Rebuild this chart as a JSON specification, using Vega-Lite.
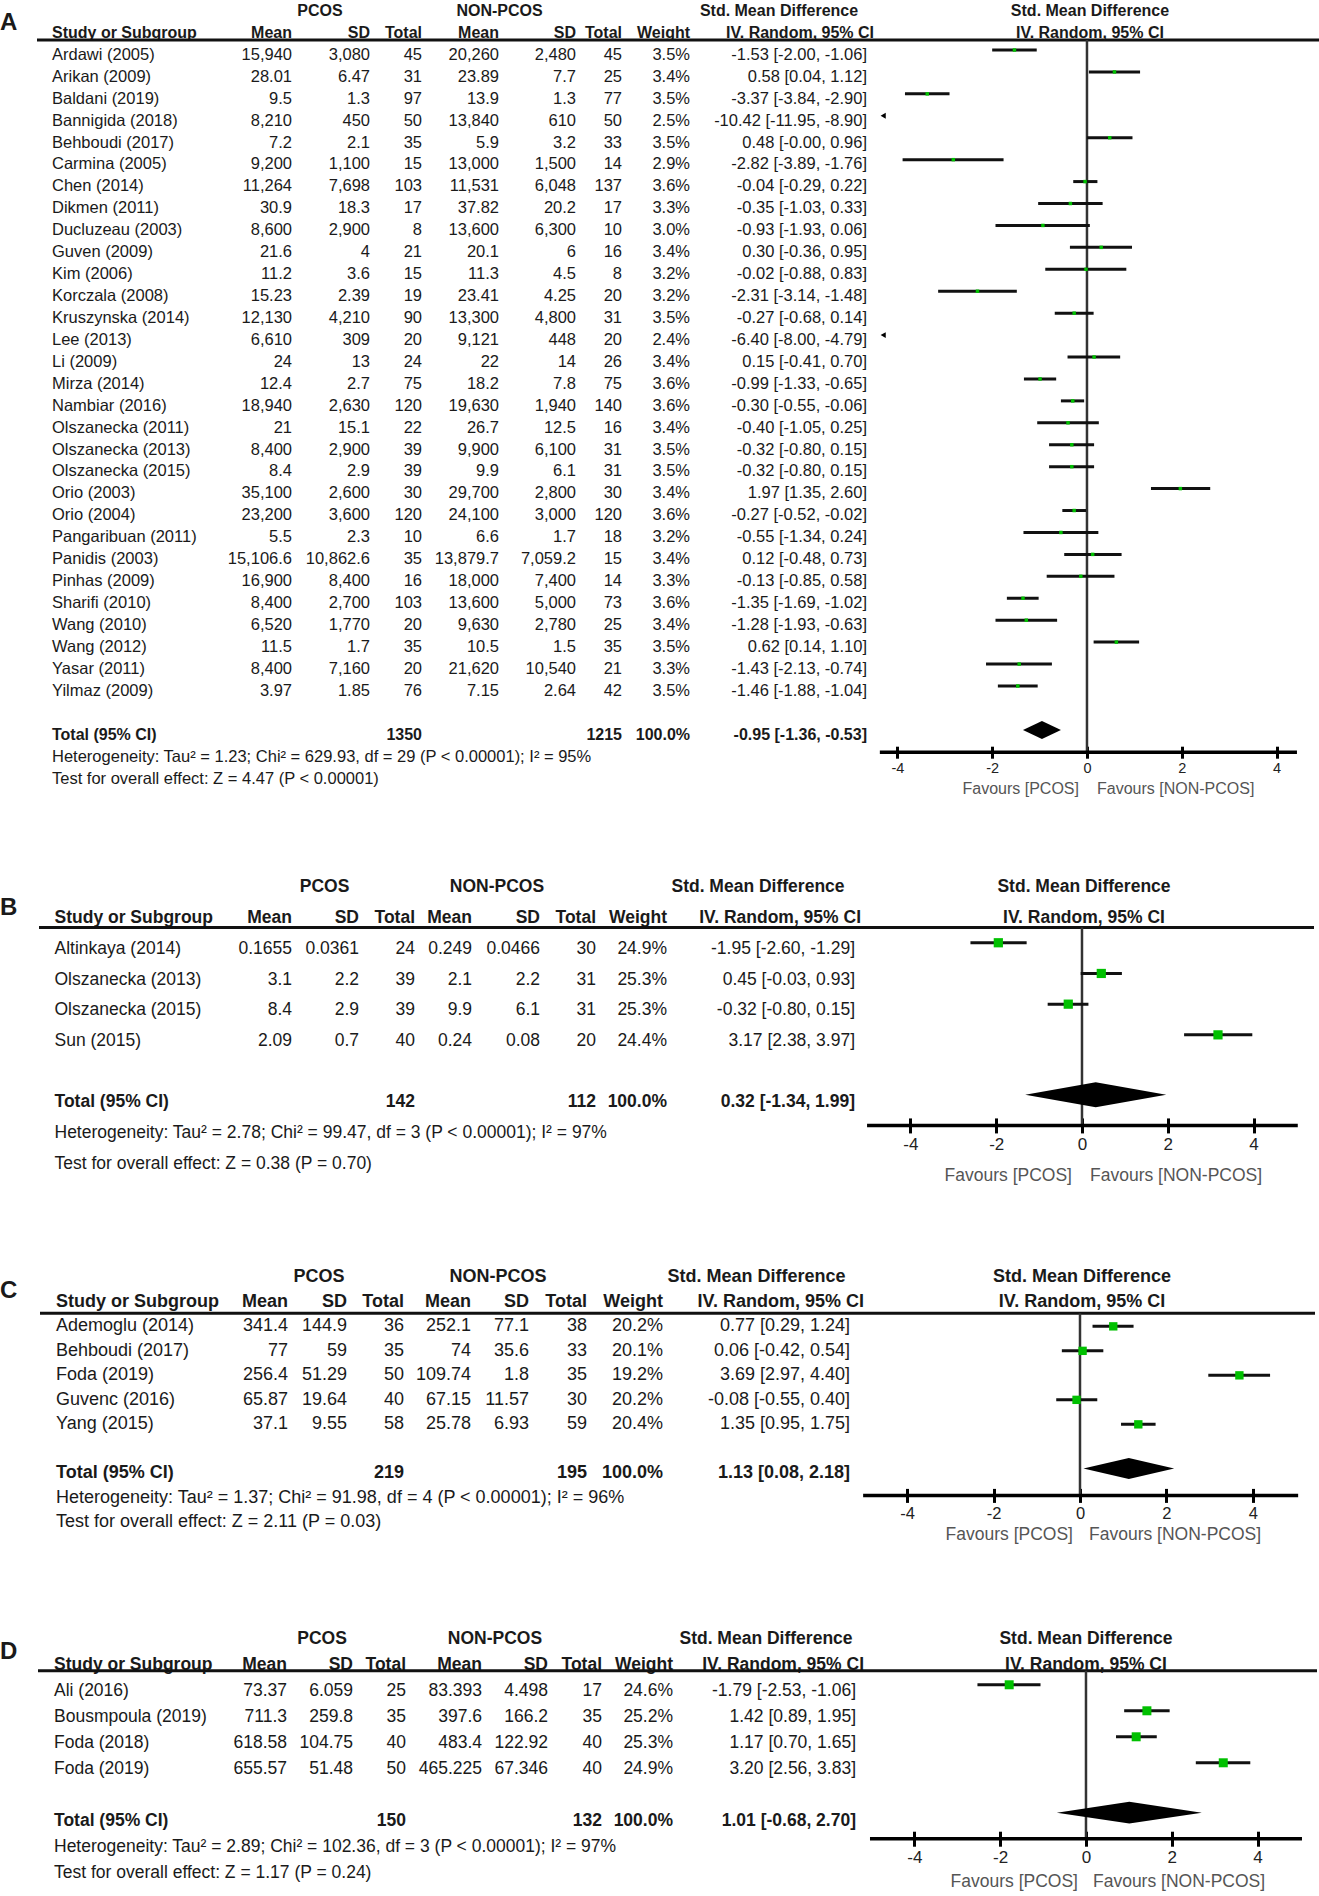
{
"$schema":"https://vega.github.io/schema/vega-lite/v6.json",
"background":"white","padding":0,
"datasets":{
"A":[
{"r":"h1","k":"h1","lab":"A","s1":"PCOS","s2":"NON-PCOS","ci":"Std. Mean Difference","p":"Std. Mean Difference"},
{"r":"Study or Subgroup","k":"h","m1":"Mean","s1":"SD","n1":"Total","m2":"Mean","s2":"SD","n2":"Total","w":"Weight","ci":"IV. Random, 95% CI","p":"IV. Random, 95% CI"},
{"r":"Ardawi (2005)","k":"s","m1":"15,940","s1":"3,080","n1":"45","m2":"20,260","s2":"2,480","n2":"45","w":"3.5%","ci":"-1.53 [-2.00, -1.06]","est":-1.53,"lo":-2.00,"hi":-1.06},
{"r":"Arikan (2009)","k":"s","m1":"28.01","s1":"6.47","n1":"31","m2":"23.89","s2":"7.7","n2":"25","w":"3.4%","ci":"0.58 [0.04, 1.12]","est":0.58,"lo":0.04,"hi":1.12},
{"r":"Baldani (2019)","k":"s","m1":"9.5","s1":"1.3","n1":"97","m2":"13.9","s2":"1.3","n2":"77","w":"3.5%","ci":"-3.37 [-3.84, -2.90]","est":-3.37,"lo":-3.84,"hi":-2.90},
{"r":"Bannigida (2018)","k":"s","m1":"8,210","s1":"450","n1":"50","m2":"13,840","s2":"610","n2":"50","w":"2.5%","ci":"-10.42 [-11.95, -8.90]","est":-10.42,"lo":-11.95,"hi":-8.90},
{"r":"Behboudi (2017)","k":"s","m1":"7.2","s1":"2.1","n1":"35","m2":"5.9","s2":"3.2","n2":"33","w":"3.5%","ci":"0.48 [-0.00, 0.96]","est":0.48,"lo":0.00,"hi":0.96},
{"r":"Carmina (2005)","k":"s","m1":"9,200","s1":"1,100","n1":"15","m2":"13,000","s2":"1,500","n2":"14","w":"2.9%","ci":"-2.82 [-3.89, -1.76]","est":-2.82,"lo":-3.89,"hi":-1.76},
{"r":"Chen (2014)","k":"s","m1":"11,264","s1":"7,698","n1":"103","m2":"11,531","s2":"6,048","n2":"137","w":"3.6%","ci":"-0.04 [-0.29, 0.22]","est":-0.04,"lo":-0.29,"hi":0.22},
{"r":"Dikmen (2011)","k":"s","m1":"30.9","s1":"18.3","n1":"17","m2":"37.82","s2":"20.2","n2":"17","w":"3.3%","ci":"-0.35 [-1.03, 0.33]","est":-0.35,"lo":-1.03,"hi":0.33},
{"r":"Ducluzeau (2003)","k":"s","m1":"8,600","s1":"2,900","n1":"8","m2":"13,600","s2":"6,300","n2":"10","w":"3.0%","ci":"-0.93 [-1.93, 0.06]","est":-0.93,"lo":-1.93,"hi":0.06},
{"r":"Guven (2009)","k":"s","m1":"21.6","s1":"4","n1":"21","m2":"20.1","s2":"6","n2":"16","w":"3.4%","ci":"0.30 [-0.36, 0.95]","est":0.30,"lo":-0.36,"hi":0.95},
{"r":"Kim (2006)","k":"s","m1":"11.2","s1":"3.6","n1":"15","m2":"11.3","s2":"4.5","n2":"8","w":"3.2%","ci":"-0.02 [-0.88, 0.83]","est":-0.02,"lo":-0.88,"hi":0.83},
{"r":"Korczala (2008)","k":"s","m1":"15.23","s1":"2.39","n1":"19","m2":"23.41","s2":"4.25","n2":"20","w":"3.2%","ci":"-2.31 [-3.14, -1.48]","est":-2.31,"lo":-3.14,"hi":-1.48},
{"r":"Kruszynska (2014)","k":"s","m1":"12,130","s1":"4,210","n1":"90","m2":"13,300","s2":"4,800","n2":"31","w":"3.5%","ci":"-0.27 [-0.68, 0.14]","est":-0.27,"lo":-0.68,"hi":0.14},
{"r":"Lee (2013)","k":"s","m1":"6,610","s1":"309","n1":"20","m2":"9,121","s2":"448","n2":"20","w":"2.4%","ci":"-6.40 [-8.00, -4.79]","est":-6.40,"lo":-8.00,"hi":-4.79},
{"r":"Li (2009)","k":"s","m1":"24","s1":"13","n1":"24","m2":"22","s2":"14","n2":"26","w":"3.4%","ci":"0.15 [-0.41, 0.70]","est":0.15,"lo":-0.41,"hi":0.70},
{"r":"Mirza (2014)","k":"s","m1":"12.4","s1":"2.7","n1":"75","m2":"18.2","s2":"7.8","n2":"75","w":"3.6%","ci":"-0.99 [-1.33, -0.65]","est":-0.99,"lo":-1.33,"hi":-0.65},
{"r":"Nambiar (2016)","k":"s","m1":"18,940","s1":"2,630","n1":"120","m2":"19,630","s2":"1,940","n2":"140","w":"3.6%","ci":"-0.30 [-0.55, -0.06]","est":-0.30,"lo":-0.55,"hi":-0.06},
{"r":"Olszanecka (2011)","k":"s","m1":"21","s1":"15.1","n1":"22","m2":"26.7","s2":"12.5","n2":"16","w":"3.4%","ci":"-0.40 [-1.05, 0.25]","est":-0.40,"lo":-1.05,"hi":0.25},
{"r":"Olszanecka (2013)","k":"s","m1":"8,400","s1":"2,900","n1":"39","m2":"9,900","s2":"6,100","n2":"31","w":"3.5%","ci":"-0.32 [-0.80, 0.15]","est":-0.32,"lo":-0.80,"hi":0.15},
{"r":"Olszanecka (2015)","k":"s","m1":"8.4","s1":"2.9","n1":"39","m2":"9.9","s2":"6.1","n2":"31","w":"3.5%","ci":"-0.32 [-0.80, 0.15]","est":-0.32,"lo":-0.80,"hi":0.15},
{"r":"Orio (2003)","k":"s","m1":"35,100","s1":"2,600","n1":"30","m2":"29,700","s2":"2,800","n2":"30","w":"3.4%","ci":"1.97 [1.35, 2.60]","est":1.97,"lo":1.35,"hi":2.60},
{"r":"Orio (2004)","k":"s","m1":"23,200","s1":"3,600","n1":"120","m2":"24,100","s2":"3,000","n2":"120","w":"3.6%","ci":"-0.27 [-0.52, -0.02]","est":-0.27,"lo":-0.52,"hi":-0.02},
{"r":"Pangaribuan (2011)","k":"s","m1":"5.5","s1":"2.3","n1":"10","m2":"6.6","s2":"1.7","n2":"18","w":"3.2%","ci":"-0.55 [-1.34, 0.24]","est":-0.55,"lo":-1.34,"hi":0.24},
{"r":"Panidis (2003)","k":"s","m1":"15,106.6","s1":"10,862.6","n1":"35","m2":"13,879.7","s2":"7,059.2","n2":"15","w":"3.4%","ci":"0.12 [-0.48, 0.73]","est":0.12,"lo":-0.48,"hi":0.73},
{"r":"Pinhas (2009)","k":"s","m1":"16,900","s1":"8,400","n1":"16","m2":"18,000","s2":"7,400","n2":"14","w":"3.3%","ci":"-0.13 [-0.85, 0.58]","est":-0.13,"lo":-0.85,"hi":0.58},
{"r":"Sharifi (2010)","k":"s","m1":"8,400","s1":"2,700","n1":"103","m2":"13,600","s2":"5,000","n2":"73","w":"3.6%","ci":"-1.35 [-1.69, -1.02]","est":-1.35,"lo":-1.69,"hi":-1.02},
{"r":"Wang (2010)","k":"s","m1":"6,520","s1":"1,770","n1":"20","m2":"9,630","s2":"2,780","n2":"25","w":"3.4%","ci":"-1.28 [-1.93, -0.63]","est":-1.28,"lo":-1.93,"hi":-0.63},
{"r":"Wang (2012)","k":"s","m1":"11.5","s1":"1.7","n1":"35","m2":"10.5","s2":"1.5","n2":"35","w":"3.5%","ci":"0.62 [0.14, 1.10]","est":0.62,"lo":0.14,"hi":1.10},
{"r":"Yasar (2011)","k":"s","m1":"8,400","s1":"7,160","n1":"20","m2":"21,620","s2":"10,540","n2":"21","w":"3.3%","ci":"-1.43 [-2.13, -0.74]","est":-1.43,"lo":-2.13,"hi":-0.74},
{"r":"Yilmaz (2009)","k":"s","m1":"3.97","s1":"1.85","n1":"76","m2":"7.15","s2":"2.64","n2":"42","w":"3.5%","ci":"-1.46 [-1.88, -1.04]","est":-1.46,"lo":-1.88,"hi":-1.04},
{"r":"g","k":"g"},
{"r":"Total (95% CI)","k":"t","n1":"1350","n2":"1215","w":"100.0%","ci":"-0.95 [-1.36, -0.53]","est":-0.95,"lo":-1.36,"hi":-0.53},
{"r":"Het","k":"n","txt":"Heterogeneity: Tau² = 1.23; Chi² = 629.93, df = 29 (P < 0.00001); I² = 95%"},
{"r":"Test","k":"n","txt":"Test for overall effect: Z = 4.47 (P < 0.00001)","fl":"Favours [PCOS]","fr":"Favours [NON-PCOS]"}
],
"B":[
{"r":"h1","k":"h1","lab":"B","s1":"PCOS","s2":"NON-PCOS","ci":"Std. Mean Difference","p":"Std. Mean Difference"},
{"r":"Study or Subgroup","k":"h","m1":"Mean","s1":"SD","n1":"Total","m2":"Mean","s2":"SD","n2":"Total","w":"Weight","ci":"IV. Random, 95% CI","p":"IV. Random, 95% CI"},
{"r":"Altinkaya (2014)","k":"s","m1":"0.1655","s1":"0.0361","n1":"24","m2":"0.249","s2":"0.0466","n2":"30","w":"24.9%","ci":"-1.95 [-2.60, -1.29]","est":-1.95,"lo":-2.60,"hi":-1.29},
{"r":"Olszanecka (2013)","k":"s","m1":"3.1","s1":"2.2","n1":"39","m2":"2.1","s2":"2.2","n2":"31","w":"25.3%","ci":"0.45 [-0.03, 0.93]","est":0.45,"lo":-0.03,"hi":0.93},
{"r":"Olszanecka (2015)","k":"s","m1":"8.4","s1":"2.9","n1":"39","m2":"9.9","s2":"6.1","n2":"31","w":"25.3%","ci":"-0.32 [-0.80, 0.15]","est":-0.32,"lo":-0.80,"hi":0.15},
{"r":"Sun (2015)","k":"s","m1":"2.09","s1":"0.7","n1":"40","m2":"0.24","s2":"0.08","n2":"20","w":"24.4%","ci":"3.17 [2.38, 3.97]","est":3.17,"lo":2.38,"hi":3.97},
{"r":"g","k":"g"},
{"r":"Total (95% CI)","k":"t","n1":"142","n2":"112","w":"100.0%","ci":"0.32 [-1.34, 1.99]","est":0.32,"lo":-1.34,"hi":1.99},
{"r":"Het","k":"n","txt":"Heterogeneity: Tau² = 2.78; Chi² = 99.47, df = 3 (P < 0.00001); I² = 97%"},
{"r":"Test","k":"n","txt":"Test for overall effect: Z = 0.38 (P = 0.70)","fl":"Favours [PCOS]","fr":"Favours [NON-PCOS]"}
],
"C":[
{"r":"h1","k":"h1","lab":"C","s1":"PCOS","s2":"NON-PCOS","ci":"Std. Mean Difference","p":"Std. Mean Difference"},
{"r":"Study or Subgroup","k":"h","m1":"Mean","s1":"SD","n1":"Total","m2":"Mean","s2":"SD","n2":"Total","w":"Weight","ci":"IV. Random, 95% CI","p":"IV. Random, 95% CI"},
{"r":"Ademoglu (2014)","k":"s","m1":"341.4","s1":"144.9","n1":"36","m2":"252.1","s2":"77.1","n2":"38","w":"20.2%","ci":"0.77 [0.29, 1.24]","est":0.77,"lo":0.29,"hi":1.24},
{"r":"Behboudi (2017)","k":"s","m1":"77","s1":"59","n1":"35","m2":"74","s2":"35.6","n2":"33","w":"20.1%","ci":"0.06 [-0.42, 0.54]","est":0.06,"lo":-0.42,"hi":0.54},
{"r":"Foda (2019)","k":"s","m1":"256.4","s1":"51.29","n1":"50","m2":"109.74","s2":"1.8","n2":"35","w":"19.2%","ci":"3.69 [2.97, 4.40]","est":3.69,"lo":2.97,"hi":4.40},
{"r":"Guvenc (2016)","k":"s","m1":"65.87","s1":"19.64","n1":"40","m2":"67.15","s2":"11.57","n2":"30","w":"20.2%","ci":"-0.08 [-0.55, 0.40]","est":-0.08,"lo":-0.55,"hi":0.40},
{"r":"Yang (2015)","k":"s","m1":"37.1","s1":"9.55","n1":"58","m2":"25.78","s2":"6.93","n2":"59","w":"20.4%","ci":"1.35 [0.95, 1.75]","est":1.35,"lo":0.95,"hi":1.75},
{"r":"g","k":"g"},
{"r":"Total (95% CI)","k":"t","n1":"219","n2":"195","w":"100.0%","ci":"1.13 [0.08, 2.18]","est":1.13,"lo":0.08,"hi":2.18},
{"r":"Het","k":"n","txt":"Heterogeneity: Tau² = 1.37; Chi² = 91.98, df = 4 (P < 0.00001); I² = 96%"},
{"r":"Test","k":"n","txt":"Test for overall effect: Z = 2.11 (P = 0.03)","fl":"Favours [PCOS]","fr":"Favours [NON-PCOS]"}
],
"D":[
{"r":"h1","k":"h1","lab":"D","s1":"PCOS","s2":"NON-PCOS","ci":"Std. Mean Difference","p":"Std. Mean Difference"},
{"r":"Study or Subgroup","k":"h","m1":"Mean","s1":"SD","n1":"Total","m2":"Mean","s2":"SD","n2":"Total","w":"Weight","ci":"IV. Random, 95% CI","p":"IV. Random, 95% CI"},
{"r":"Ali (2016)","k":"s","m1":"73.37","s1":"6.059","n1":"25","m2":"83.393","s2":"4.498","n2":"17","w":"24.6%","ci":"-1.79 [-2.53, -1.06]","est":-1.79,"lo":-2.53,"hi":-1.06},
{"r":"Bousmpoula (2019)","k":"s","m1":"711.3","s1":"259.8","n1":"35","m2":"397.6","s2":"166.2","n2":"35","w":"25.2%","ci":"1.42 [0.89, 1.95]","est":1.42,"lo":0.89,"hi":1.95},
{"r":"Foda (2018)","k":"s","m1":"618.58","s1":"104.75","n1":"40","m2":"483.4","s2":"122.92","n2":"40","w":"25.3%","ci":"1.17 [0.70, 1.65]","est":1.17,"lo":0.70,"hi":1.65},
{"r":"Foda (2019)","k":"s","m1":"655.57","s1":"51.48","n1":"50","m2":"465.225","s2":"67.346","n2":"40","w":"24.9%","ci":"3.20 [2.56, 3.83]","est":3.20,"lo":2.56,"hi":3.83},
{"r":"g","k":"g"},
{"r":"Total (95% CI)","k":"t","n1":"150","n2":"132","w":"100.0%","ci":"1.01 [-0.68, 2.70]","est":1.01,"lo":-0.68,"hi":2.70},
{"r":"Het","k":"n","txt":"Heterogeneity: Tau² = 2.89; Chi² = 102.36, df = 3 (P < 0.00001); I² = 97%"},
{"r":"Test","k":"n","txt":"Test for overall effect: Z = 1.17 (P = 0.24)","fl":"Favours [PCOS]","fr":"Favours [NON-PCOS]"}
]
},
"vconcat":[
{"hconcat":[
{"width":37,"height":{"step":21.93},"data":{"name":"A"},"mark":{"type":"text","style":"L","align":"left"},"encoding":{"x":{"value":0},"y":{"field":"r","type":"nominal","axis":null,"sort":null,"bandPosition":1.05,"scale":{"type":"band","paddingInner":0,"paddingOuter":0.3876,"align":0}},"text":{"condition":{"test":"datum.k=='h1'","field":"lab"},"value":""}}},
{"width":203,"height":{"step":21.93},"data":{"name":"A"},"encoding":{"y":{"field":"r","type":"nominal","axis":null,"sort":null,"scale":{"type":"band","paddingInner":0,"paddingOuter":0.3876,"align":0}}},"layer":[
{"mark":{"type":"text","style":"A","align":"left","dx":15},"encoding":{"x":{"value":0},"text":{"condition":{"test":"datum.k=='s'","field":"r"},"value":""}}},
{"mark":{"type":"text","style":"Ab","align":"left","dx":15},"encoding":{"x":{"value":0},"text":{"condition":{"test":"datum.k=='h'||datum.k=='t'","field":"r"},"value":""}}},
{"mark":{"type":"text","style":"A","align":"left","dx":15},"encoding":{"x":{"value":0},"text":{"condition":{"test":"datum.k=='n'","field":"txt"},"value":""}}},
{"mark":{"type":"rule","color":"#111","strokeWidth":3},"encoding":{"y":{"field":"r","type":"nominal","axis":null,"sort":null,"bandPosition":0.82},"opacity":{"condition":{"test":"datum.k=='h'","value":1},"value":0}}}]},
{"width":52,"height":{"step":21.93},"data":{"name":"A"},"encoding":{"y":{"field":"r","type":"nominal","axis":null,"sort":null,"scale":{"type":"band","paddingInner":0,"paddingOuter":0.3876,"align":0}}},"layer":[
{"mark":{"type":"text","style":"A"},"encoding":{"x":{"value":"width"},"text":{"condition":{"test":"datum.k=='s'","field":"m1"},"value":""}}},
{"mark":{"type":"text","style":"Ab"},"encoding":{"x":{"value":"width"},"text":{"condition":{"test":"datum.k=='h'","field":"m1"},"value":""}}},
{"mark":{"type":"rule","color":"#111","strokeWidth":3},"encoding":{"y":{"field":"r","type":"nominal","axis":null,"sort":null,"bandPosition":0.82},"opacity":{"condition":{"test":"datum.k=='h'","value":1},"value":0}}}]},
{"width":78,"height":{"step":21.93},"data":{"name":"A"},"encoding":{"y":{"field":"r","type":"nominal","axis":null,"sort":null,"scale":{"type":"band","paddingInner":0,"paddingOuter":0.3876,"align":0}}},"layer":[
{"mark":{"type":"text","style":"A"},"encoding":{"x":{"value":"width"},"text":{"condition":{"test":"datum.k=='s'","field":"s1"},"value":""}}},
{"mark":{"type":"text","style":"Ab"},"encoding":{"x":{"value":"width"},"text":{"condition":{"test":"datum.k=='h'","field":"s1"},"value":""}}},
{"mark":{"type":"text","style":"Ab","align":"center","dx":-11},"encoding":{"text":{"condition":{"test":"datum.k=='h1'","field":"s1"},"value":""}}},
{"mark":{"type":"rule","color":"#111","strokeWidth":3},"encoding":{"y":{"field":"r","type":"nominal","axis":null,"sort":null,"bandPosition":0.82},"opacity":{"condition":{"test":"datum.k=='h'","value":1},"value":0}}}]},
{"width":52,"height":{"step":21.93},"data":{"name":"A"},"encoding":{"y":{"field":"r","type":"nominal","axis":null,"sort":null,"scale":{"type":"band","paddingInner":0,"paddingOuter":0.3876,"align":0}}},"layer":[
{"mark":{"type":"text","style":"A"},"encoding":{"x":{"value":"width"},"text":{"condition":{"test":"datum.k=='s'","field":"n1"},"value":""}}},
{"mark":{"type":"text","style":"Ab"},"encoding":{"x":{"value":"width"},"text":{"condition":{"test":"datum.k=='h'||datum.k=='t'","field":"n1"},"value":""}}},
{"mark":{"type":"rule","color":"#111","strokeWidth":3},"encoding":{"y":{"field":"r","type":"nominal","axis":null,"sort":null,"bandPosition":0.82},"opacity":{"condition":{"test":"datum.k=='h'","value":1},"value":0}}}]},
{"width":77,"height":{"step":21.93},"data":{"name":"A"},"encoding":{"y":{"field":"r","type":"nominal","axis":null,"sort":null,"scale":{"type":"band","paddingInner":0,"paddingOuter":0.3876,"align":0}}},"layer":[
{"mark":{"type":"text","style":"A"},"encoding":{"x":{"value":"width"},"text":{"condition":{"test":"datum.k=='s'","field":"m2"},"value":""}}},
{"mark":{"type":"text","style":"Ab"},"encoding":{"x":{"value":"width"},"text":{"condition":{"test":"datum.k=='h'","field":"m2"},"value":""}}},
{"mark":{"type":"rule","color":"#111","strokeWidth":3},"encoding":{"y":{"field":"r","type":"nominal","axis":null,"sort":null,"bandPosition":0.82},"opacity":{"condition":{"test":"datum.k=='h'","value":1},"value":0}}}]},
{"width":77,"height":{"step":21.93},"data":{"name":"A"},"encoding":{"y":{"field":"r","type":"nominal","axis":null,"sort":null,"scale":{"type":"band","paddingInner":0,"paddingOuter":0.3876,"align":0}}},"layer":[
{"mark":{"type":"text","style":"A"},"encoding":{"x":{"value":"width"},"text":{"condition":{"test":"datum.k=='s'","field":"s2"},"value":""}}},
{"mark":{"type":"text","style":"Ab"},"encoding":{"x":{"value":"width"},"text":{"condition":{"test":"datum.k=='h'","field":"s2"},"value":""}}},
{"mark":{"type":"text","style":"Ab","align":"center","dx":-38},"encoding":{"text":{"condition":{"test":"datum.k=='h1'","field":"s2"},"value":""}}},
{"mark":{"type":"rule","color":"#111","strokeWidth":3},"encoding":{"y":{"field":"r","type":"nominal","axis":null,"sort":null,"bandPosition":0.82},"opacity":{"condition":{"test":"datum.k=='h'","value":1},"value":0}}}]},
{"width":46,"height":{"step":21.93},"data":{"name":"A"},"encoding":{"y":{"field":"r","type":"nominal","axis":null,"sort":null,"scale":{"type":"band","paddingInner":0,"paddingOuter":0.3876,"align":0}}},"layer":[
{"mark":{"type":"text","style":"A"},"encoding":{"x":{"value":"width"},"text":{"condition":{"test":"datum.k=='s'","field":"n2"},"value":""}}},
{"mark":{"type":"text","style":"Ab"},"encoding":{"x":{"value":"width"},"text":{"condition":{"test":"datum.k=='h'||datum.k=='t'","field":"n2"},"value":""}}},
{"mark":{"type":"rule","color":"#111","strokeWidth":3},"encoding":{"y":{"field":"r","type":"nominal","axis":null,"sort":null,"bandPosition":0.82},"opacity":{"condition":{"test":"datum.k=='h'","value":1},"value":0}}}]},
{"width":68,"height":{"step":21.93},"data":{"name":"A"},"encoding":{"y":{"field":"r","type":"nominal","axis":null,"sort":null,"scale":{"type":"band","paddingInner":0,"paddingOuter":0.3876,"align":0}}},"layer":[
{"mark":{"type":"text","style":"A"},"encoding":{"x":{"value":"width"},"text":{"condition":{"test":"datum.k=='s'","field":"w"},"value":""}}},
{"mark":{"type":"text","style":"Ab"},"encoding":{"x":{"value":"width"},"text":{"condition":{"test":"datum.k=='h'||datum.k=='t'","field":"w"},"value":""}}},
{"mark":{"type":"rule","color":"#111","strokeWidth":3},"encoding":{"y":{"field":"r","type":"nominal","axis":null,"sort":null,"bandPosition":0.82},"opacity":{"condition":{"test":"datum.k=='h'","value":1},"value":0}}}]},
{"width":177,"height":{"step":21.93},"data":{"name":"A"},"encoding":{"y":{"field":"r","type":"nominal","axis":null,"sort":null,"scale":{"type":"band","paddingInner":0,"paddingOuter":0.3876,"align":0}}},"layer":[
{"mark":{"type":"text","style":"A"},"encoding":{"x":{"value":"width"},"text":{"condition":{"test":"datum.k=='s'","field":"ci"},"value":""}}},
{"mark":{"type":"text","style":"Ab"},"encoding":{"x":{"value":"width"},"text":{"condition":{"test":"datum.k=='t'","field":"ci"},"value":""}}},
{"mark":{"type":"text","style":"Ab","dx":7},"encoding":{"x":{"value":"width"},"text":{"condition":{"test":"datum.k=='h'","field":"ci"},"value":""}}},
{"mark":{"type":"text","style":"Ab","align":"center","dx":0.5},"encoding":{"text":{"condition":{"test":"datum.k=='h1'","field":"ci"},"value":""}}},
{"mark":{"type":"rule","color":"#111","strokeWidth":3},"encoding":{"y":{"field":"r","type":"nominal","axis":null,"sort":null,"bandPosition":0.82},"opacity":{"condition":{"test":"datum.k=='h'","value":1},"value":0}}}]},
{"width":452,"height":{"step":21.93},"data":{"name":"A"},"layer":[
{"transform":[{"filter":"datum.k=='h'"}],"mark":{"type":"rule","color":"#111","strokeWidth":3},"encoding":{"y":{"field":"r","type":"nominal","axis":null,"bandPosition":0.82,"scale":{"type":"band","paddingInner":0,"paddingOuter":0.3876,"align":0,"domain":["h1","Study or Subgroup","Ardawi (2005)","Arikan (2009)","Baldani (2019)","Bannigida (2018)","Behboudi (2017)","Carmina (2005)","Chen (2014)","Dikmen (2011)","Ducluzeau (2003)","Guven (2009)","Kim (2006)","Korczala (2008)","Kruszynska (2014)","Lee (2013)","Li (2009)","Mirza (2014)","Nambiar (2016)","Olszanecka (2011)","Olszanecka (2013)","Olszanecka (2015)","Orio (2003)","Orio (2004)","Pangaribuan (2011)","Panidis (2003)","Pinhas (2009)","Sharifi (2010)","Wang (2010)","Wang (2012)","Yasar (2011)","Yilmaz (2009)","g","Total (95% CI)","Het","Test"]}}}},
{"transform":[{"filter":"datum.k=='h'"}],"mark":{"type":"rule","color":"#333","strokeWidth":2.5},"encoding":{"x":{"datum":0,"type":"quantitative","scale":{"domain":[-4.641,4.895],"nice":false,"zero":false},"axis":{"values":[-4,-2,0,2,4],"domain":false,"grid":false,"tickSize":12,"tickWidth":3,"tickColor":"#000","offset":-60.28,"labelFont":"Liberation Sans","labelFontSize":14.5,"labelColor":"#222","labelPadding":3,"labelExpr":"''+datum.value","labelFlush":false,"labelOverlap":false,"title":null}},"y":{"datum":"Study or Subgroup","type":"nominal","axis":null,"bandPosition":0.82},"y2":{"datum":"Het","bandPosition":0.3}}},
{"transform":[{"filter":"datum.k=='h1'||datum.k=='h'"}],"mark":{"type":"text","style":"Ab","align":"center","dx":3},"encoding":{"x":{"datum":0},"y":{"field":"r","type":"nominal","axis":null},"text":{"field":"p"}}},
{"transform":[{"filter":"datum.k=='s'&&datum.hi>-4.37"}],"mark":{"type":"rule","color":"#111","strokeWidth":3},"encoding":{"x":{"field":"lo","type":"quantitative"},"x2":{"field":"hi"},"y":{"field":"r","type":"nominal","axis":null,"bandPosition":0.28}}},
{"transform":[{"filter":"datum.k=='s'&&datum.hi>-4.37"}],"mark":{"type":"point","shape":"square","filled":true,"opacity":1,"color":"#00c000","size":12},"encoding":{"x":{"field":"est","type":"quantitative"},"y":{"field":"r","type":"nominal","axis":null,"bandPosition":0.28}}},
{"transform":[{"filter":"datum.k=='s'&&datum.hi<-4.37"}],"mark":{"type":"point","shape":"triangle-left","filled":true,"opacity":1,"color":"#000","size":35},"encoding":{"x":{"datum":-4.3},"y":{"field":"r","type":"nominal","axis":null,"bandPosition":0.28}}},
{"transform":[{"filter":"datum.k=='t'"}],"mark":{"type":"point","shape":"M-1,0L0,-0.474L1,0L0,0.474Z","filled":true,"opacity":1,"color":"#000","size":1444},"encoding":{"x":{"field":"est","type":"quantitative"},"y":{"field":"r","type":"nominal","axis":null,"bandPosition":0.29}}},
{"transform":[{"filter":"datum.k=='h'"}],"mark":{"type":"rule","color":"#000","strokeWidth":3.5},"encoding":{"x":{"datum":-4.37},"x2":{"datum":4.43},"y":{"datum":"Het","type":"nominal","axis":null,"bandPosition":0.3}}},
{"transform":[{"filter":"datum.r=='Test'"}],"mark":{"type":"text","style":"A","fontSize":16,"align":"right","dx":-8,"color":"#555"},"encoding":{"x":{"datum":0},"y":{"field":"r","type":"nominal","axis":null,"bandPosition":0.98},"text":{"field":"fl"}}},
{"transform":[{"filter":"datum.r=='Test'"}],"mark":{"type":"text","style":"A","fontSize":16,"align":"left","dx":10,"color":"#555"},"encoding":{"x":{"datum":0},"y":{"field":"r","type":"nominal","axis":null,"bandPosition":0.98},"text":{"field":"fr"}}}]}
],"spacing":0,"bounds":"flush"},

{"hconcat":[
{"width":39,"height":{"step":30.7},"data":{"name":"B"},"mark":{"type":"text","style":"L","align":"left"},"encoding":{"x":{"value":0},"y":{"field":"r","type":"nominal","axis":null,"sort":null,"bandPosition":1.18,"scale":{"type":"band","paddingInner":0,"paddingOuter":0.5236,"align":0.4712}},"text":{"condition":{"test":"datum.k=='h1'","field":"lab"},"value":""}}},
{"width":201,"height":{"step":30.7},"data":{"name":"B"},"encoding":{"y":{"field":"r","type":"nominal","axis":null,"sort":null,"scale":{"type":"band","paddingInner":0,"paddingOuter":0.5236,"align":0.4712}}},"layer":[
{"mark":{"type":"text","style":"B","align":"left","dx":15.5},"encoding":{"x":{"value":0},"text":{"condition":{"test":"datum.k=='s'","field":"r"},"value":""}}},
{"mark":{"type":"text","style":"Bb","align":"left","dx":15.5},"encoding":{"x":{"value":0},"text":{"condition":{"test":"datum.k=='h'||datum.k=='t'","field":"r"},"value":""}}},
{"mark":{"type":"text","style":"B","align":"left","dx":15.5},"encoding":{"x":{"value":0},"text":{"condition":{"test":"datum.k=='n'","field":"txt"},"value":""}}},
{"mark":{"type":"rule","color":"#111","strokeWidth":3},"encoding":{"y":{"field":"r","type":"nominal","axis":null,"sort":null,"bandPosition":0.8},"opacity":{"condition":{"test":"datum.k=='h'","value":1},"value":0}}}]},
{"width":52,"height":{"step":30.7},"data":{"name":"B"},"encoding":{"y":{"field":"r","type":"nominal","axis":null,"sort":null,"scale":{"type":"band","paddingInner":0,"paddingOuter":0.5236,"align":0.4712}}},"layer":[
{"mark":{"type":"text","style":"B"},"encoding":{"x":{"value":"width"},"text":{"condition":{"test":"datum.k=='s'","field":"m1"},"value":""}}},
{"mark":{"type":"text","style":"Bb"},"encoding":{"x":{"value":"width"},"text":{"condition":{"test":"datum.k=='h'","field":"m1"},"value":""}}},
{"mark":{"type":"rule","color":"#111","strokeWidth":3},"encoding":{"y":{"field":"r","type":"nominal","axis":null,"sort":null,"bandPosition":0.8},"opacity":{"condition":{"test":"datum.k=='h'","value":1},"value":0}}}]},
{"width":67,"height":{"step":30.7},"data":{"name":"B"},"encoding":{"y":{"field":"r","type":"nominal","axis":null,"sort":null,"scale":{"type":"band","paddingInner":0,"paddingOuter":0.5236,"align":0.4712}}},"layer":[
{"mark":{"type":"text","style":"B"},"encoding":{"x":{"value":"width"},"text":{"condition":{"test":"datum.k=='s'","field":"s1"},"value":""}}},
{"mark":{"type":"text","style":"Bb"},"encoding":{"x":{"value":"width"},"text":{"condition":{"test":"datum.k=='h'","field":"s1"},"value":""}}},
{"mark":{"type":"text","style":"Bb","align":"center","dx":-1},"encoding":{"text":{"condition":{"test":"datum.k=='h1'","field":"s1"},"value":""}}},
{"mark":{"type":"rule","color":"#111","strokeWidth":3},"encoding":{"y":{"field":"r","type":"nominal","axis":null,"sort":null,"bandPosition":0.8},"opacity":{"condition":{"test":"datum.k=='h'","value":1},"value":0}}}]},
{"width":56,"height":{"step":30.7},"data":{"name":"B"},"encoding":{"y":{"field":"r","type":"nominal","axis":null,"sort":null,"scale":{"type":"band","paddingInner":0,"paddingOuter":0.5236,"align":0.4712}}},"layer":[
{"mark":{"type":"text","style":"B"},"encoding":{"x":{"value":"width"},"text":{"condition":{"test":"datum.k=='s'","field":"n1"},"value":""}}},
{"mark":{"type":"text","style":"Bb"},"encoding":{"x":{"value":"width"},"text":{"condition":{"test":"datum.k=='h'||datum.k=='t'","field":"n1"},"value":""}}},
{"mark":{"type":"rule","color":"#111","strokeWidth":3},"encoding":{"y":{"field":"r","type":"nominal","axis":null,"sort":null,"bandPosition":0.8},"opacity":{"condition":{"test":"datum.k=='h'","value":1},"value":0}}}]},
{"width":57,"height":{"step":30.7},"data":{"name":"B"},"encoding":{"y":{"field":"r","type":"nominal","axis":null,"sort":null,"scale":{"type":"band","paddingInner":0,"paddingOuter":0.5236,"align":0.4712}}},"layer":[
{"mark":{"type":"text","style":"B"},"encoding":{"x":{"value":"width"},"text":{"condition":{"test":"datum.k=='s'","field":"m2"},"value":""}}},
{"mark":{"type":"text","style":"Bb"},"encoding":{"x":{"value":"width"},"text":{"condition":{"test":"datum.k=='h'","field":"m2"},"value":""}}},
{"mark":{"type":"rule","color":"#111","strokeWidth":3},"encoding":{"y":{"field":"r","type":"nominal","axis":null,"sort":null,"bandPosition":0.8},"opacity":{"condition":{"test":"datum.k=='h'","value":1},"value":0}}}]},
{"width":68,"height":{"step":30.7},"data":{"name":"B"},"encoding":{"y":{"field":"r","type":"nominal","axis":null,"sort":null,"scale":{"type":"band","paddingInner":0,"paddingOuter":0.5236,"align":0.4712}}},"layer":[
{"mark":{"type":"text","style":"B"},"encoding":{"x":{"value":"width"},"text":{"condition":{"test":"datum.k=='s'","field":"s2"},"value":""}}},
{"mark":{"type":"text","style":"Bb"},"encoding":{"x":{"value":"width"},"text":{"condition":{"test":"datum.k=='h'","field":"s2"},"value":""}}},
{"mark":{"type":"text","style":"Bb","align":"center","dx":-9},"encoding":{"text":{"condition":{"test":"datum.k=='h1'","field":"s2"},"value":""}}},
{"mark":{"type":"rule","color":"#111","strokeWidth":3},"encoding":{"y":{"field":"r","type":"nominal","axis":null,"sort":null,"bandPosition":0.8},"opacity":{"condition":{"test":"datum.k=='h'","value":1},"value":0}}}]},
{"width":56,"height":{"step":30.7},"data":{"name":"B"},"encoding":{"y":{"field":"r","type":"nominal","axis":null,"sort":null,"scale":{"type":"band","paddingInner":0,"paddingOuter":0.5236,"align":0.4712}}},"layer":[
{"mark":{"type":"text","style":"B"},"encoding":{"x":{"value":"width"},"text":{"condition":{"test":"datum.k=='s'","field":"n2"},"value":""}}},
{"mark":{"type":"text","style":"Bb"},"encoding":{"x":{"value":"width"},"text":{"condition":{"test":"datum.k=='h'||datum.k=='t'","field":"n2"},"value":""}}},
{"mark":{"type":"rule","color":"#111","strokeWidth":3},"encoding":{"y":{"field":"r","type":"nominal","axis":null,"sort":null,"bandPosition":0.8},"opacity":{"condition":{"test":"datum.k=='h'","value":1},"value":0}}}]},
{"width":71,"height":{"step":30.7},"data":{"name":"B"},"encoding":{"y":{"field":"r","type":"nominal","axis":null,"sort":null,"scale":{"type":"band","paddingInner":0,"paddingOuter":0.5236,"align":0.4712}}},"layer":[
{"mark":{"type":"text","style":"B"},"encoding":{"x":{"value":"width"},"text":{"condition":{"test":"datum.k=='s'","field":"w"},"value":""}}},
{"mark":{"type":"text","style":"Bb"},"encoding":{"x":{"value":"width"},"text":{"condition":{"test":"datum.k=='h'||datum.k=='t'","field":"w"},"value":""}}},
{"mark":{"type":"rule","color":"#111","strokeWidth":3},"encoding":{"y":{"field":"r","type":"nominal","axis":null,"sort":null,"bandPosition":0.8},"opacity":{"condition":{"test":"datum.k=='h'","value":1},"value":0}}}]},
{"width":188,"height":{"step":30.7},"data":{"name":"B"},"encoding":{"y":{"field":"r","type":"nominal","axis":null,"sort":null,"scale":{"type":"band","paddingInner":0,"paddingOuter":0.5236,"align":0.4712}}},"layer":[
{"mark":{"type":"text","style":"B"},"encoding":{"x":{"value":"width"},"text":{"condition":{"test":"datum.k=='s'","field":"ci"},"value":""}}},
{"mark":{"type":"text","style":"Bb"},"encoding":{"x":{"value":"width"},"text":{"condition":{"test":"datum.k=='t'","field":"ci"},"value":""}}},
{"mark":{"type":"text","style":"Bb","dx":6},"encoding":{"x":{"value":"width"},"text":{"condition":{"test":"datum.k=='h'","field":"ci"},"value":""}}},
{"mark":{"type":"text","style":"Bb","align":"center","dx":-3},"encoding":{"text":{"condition":{"test":"datum.k=='h1'","field":"ci"},"value":""}}},
{"mark":{"type":"rule","color":"#111","strokeWidth":3},"encoding":{"y":{"field":"r","type":"nominal","axis":null,"sort":null,"bandPosition":0.8},"opacity":{"condition":{"test":"datum.k=='h'","value":1},"value":0}}}]},
{"width":459,"height":{"step":30.7},"data":{"name":"B"},"layer":[
{"transform":[{"filter":"datum.k=='h'"}],"mark":{"type":"rule","color":"#111","strokeWidth":3},"encoding":{"y":{"field":"r","type":"nominal","axis":null,"bandPosition":0.8,"scale":{"type":"band","paddingInner":0,"paddingOuter":0.5236,"align":0.4712,"domain":["h1","Study or Subgroup","Altinkaya (2014)","Olszanecka (2013)","Olszanecka (2015)","Sun (2015)","g","Total (95% CI)","Het","Test"]}}}},
{"transform":[{"filter":"datum.k=='h'"}],"mark":{"type":"rule","color":"#333","strokeWidth":2.5},"encoding":{"x":{"datum":0,"type":"quantitative","scale":{"domain":[-5.291,5.408],"nice":false,"zero":false},"axis":{"values":[-4,-2,0,2,4],"domain":false,"grid":false,"tickSize":15,"tickWidth":3,"tickColor":"#000","offset":-78.22,"labelFont":"Liberation Sans","labelFontSize":17,"labelColor":"#222","labelPadding":4,"labelExpr":"''+datum.value","labelFlush":false,"labelOverlap":false,"title":null}},"y":{"datum":"Study or Subgroup","type":"nominal","axis":null,"bandPosition":0.8},"y2":{"datum":"Het","bandPosition":0.25}}},
{"transform":[{"filter":"datum.k=='h1'||datum.k=='h'"}],"mark":{"type":"text","style":"Bb","align":"center","dx":2},"encoding":{"x":{"datum":0},"y":{"field":"r","type":"nominal","axis":null},"text":{"field":"p"}}},
{"transform":[{"filter":"datum.k=='s'"}],"mark":{"type":"rule","color":"#111","strokeWidth":3},"encoding":{"x":{"field":"lo","type":"quantitative"},"x2":{"field":"hi"},"y":{"field":"r","type":"nominal","axis":null,"bandPosition":0.3}}},
{"transform":[{"filter":"datum.k=='s'"}],"mark":{"type":"point","shape":"square","filled":true,"opacity":1,"color":"#00c000","size":85},"encoding":{"x":{"field":"est","type":"quantitative"},"y":{"field":"r","type":"nominal","axis":null,"bandPosition":0.3}}},
{"transform":[{"filter":"datum.k=='t'"}],"mark":{"type":"point","shape":"M-1,0L0,-0.177L1,0L0,0.177Z","filled":true,"opacity":1,"color":"#000","size":19881},"encoding":{"x":{"field":"est","type":"quantitative"},"y":{"field":"r","type":"nominal","axis":null,"bandPosition":0.25}}},
{"transform":[{"filter":"datum.k=='h'"}],"mark":{"type":"rule","color":"#000","strokeWidth":3.5},"encoding":{"x":{"datum":-5.01},"x2":{"datum":5.03},"y":{"datum":"Het","type":"nominal","axis":null,"bandPosition":0.25}}},
{"transform":[{"filter":"datum.r=='Test'"}],"mark":{"type":"text","style":"B","align":"right","dx":-10,"color":"#555"},"encoding":{"x":{"datum":0},"y":{"field":"r","type":"nominal","axis":null,"bandPosition":0.91},"text":{"field":"fl"}}},
{"transform":[{"filter":"datum.r=='Test'"}],"mark":{"type":"text","style":"B","align":"left","dx":8,"color":"#555"},"encoding":{"x":{"datum":0},"y":{"field":"r","type":"nominal","axis":null,"bandPosition":0.91},"text":{"field":"fr"}}}]}
],"spacing":0,"bounds":"flush"},

{"hconcat":[
{"width":40,"height":{"step":24.5},"data":{"name":"C"},"mark":{"type":"text","style":"L","align":"left"},"encoding":{"x":{"value":0},"y":{"field":"r","type":"nominal","axis":null,"sort":null,"bandPosition":1.07,"scale":{"type":"band","paddingInner":0,"paddingOuter":0.7367,"align":0.5014}},"text":{"condition":{"test":"datum.k=='h1'","field":"lab"},"value":""}}},
{"width":200,"height":{"step":24.5},"data":{"name":"C"},"encoding":{"y":{"field":"r","type":"nominal","axis":null,"sort":null,"scale":{"type":"band","paddingInner":0,"paddingOuter":0.7367,"align":0.5014}}},"layer":[
{"mark":{"type":"text","style":"C","align":"left","dx":16},"encoding":{"x":{"value":0},"text":{"condition":{"test":"datum.k=='s'","field":"r"},"value":""}}},
{"mark":{"type":"text","style":"Cb","align":"left","dx":16},"encoding":{"x":{"value":0},"text":{"condition":{"test":"datum.k=='h'||datum.k=='t'","field":"r"},"value":""}}},
{"mark":{"type":"text","style":"C","align":"left","dx":16},"encoding":{"x":{"value":0},"text":{"condition":{"test":"datum.k=='n'","field":"txt"},"value":""}}},
{"mark":{"type":"rule","color":"#111","strokeWidth":3},"encoding":{"y":{"field":"r","type":"nominal","axis":null,"sort":null,"bandPosition":0.97},"opacity":{"condition":{"test":"datum.k=='h'","value":1},"value":0}}}]},
{"width":48,"height":{"step":24.5},"data":{"name":"C"},"encoding":{"y":{"field":"r","type":"nominal","axis":null,"sort":null,"scale":{"type":"band","paddingInner":0,"paddingOuter":0.7367,"align":0.5014}}},"layer":[
{"mark":{"type":"text","style":"C"},"encoding":{"x":{"value":"width"},"text":{"condition":{"test":"datum.k=='s'","field":"m1"},"value":""}}},
{"mark":{"type":"text","style":"Cb"},"encoding":{"x":{"value":"width"},"text":{"condition":{"test":"datum.k=='h'","field":"m1"},"value":""}}},
{"mark":{"type":"rule","color":"#111","strokeWidth":3},"encoding":{"y":{"field":"r","type":"nominal","axis":null,"sort":null,"bandPosition":0.97},"opacity":{"condition":{"test":"datum.k=='h'","value":1},"value":0}}}]},
{"width":59,"height":{"step":24.5},"data":{"name":"C"},"encoding":{"y":{"field":"r","type":"nominal","axis":null,"sort":null,"scale":{"type":"band","paddingInner":0,"paddingOuter":0.7367,"align":0.5014}}},"layer":[
{"mark":{"type":"text","style":"C"},"encoding":{"x":{"value":"width"},"text":{"condition":{"test":"datum.k=='s'","field":"s1"},"value":""}}},
{"mark":{"type":"text","style":"Cb"},"encoding":{"x":{"value":"width"},"text":{"condition":{"test":"datum.k=='h'","field":"s1"},"value":""}}},
{"mark":{"type":"text","style":"Cb","align":"center","dx":1.5},"encoding":{"text":{"condition":{"test":"datum.k=='h1'","field":"s1"},"value":""}}},
{"mark":{"type":"rule","color":"#111","strokeWidth":3},"encoding":{"y":{"field":"r","type":"nominal","axis":null,"sort":null,"bandPosition":0.97},"opacity":{"condition":{"test":"datum.k=='h'","value":1},"value":0}}}]},
{"width":57,"height":{"step":24.5},"data":{"name":"C"},"encoding":{"y":{"field":"r","type":"nominal","axis":null,"sort":null,"scale":{"type":"band","paddingInner":0,"paddingOuter":0.7367,"align":0.5014}}},"layer":[
{"mark":{"type":"text","style":"C"},"encoding":{"x":{"value":"width"},"text":{"condition":{"test":"datum.k=='s'","field":"n1"},"value":""}}},
{"mark":{"type":"text","style":"Cb"},"encoding":{"x":{"value":"width"},"text":{"condition":{"test":"datum.k=='h'||datum.k=='t'","field":"n1"},"value":""}}},
{"mark":{"type":"rule","color":"#111","strokeWidth":3},"encoding":{"y":{"field":"r","type":"nominal","axis":null,"sort":null,"bandPosition":0.97},"opacity":{"condition":{"test":"datum.k=='h'","value":1},"value":0}}}]},
{"width":67,"height":{"step":24.5},"data":{"name":"C"},"encoding":{"y":{"field":"r","type":"nominal","axis":null,"sort":null,"scale":{"type":"band","paddingInner":0,"paddingOuter":0.7367,"align":0.5014}}},"layer":[
{"mark":{"type":"text","style":"C"},"encoding":{"x":{"value":"width"},"text":{"condition":{"test":"datum.k=='s'","field":"m2"},"value":""}}},
{"mark":{"type":"text","style":"Cb"},"encoding":{"x":{"value":"width"},"text":{"condition":{"test":"datum.k=='h'","field":"m2"},"value":""}}},
{"mark":{"type":"rule","color":"#111","strokeWidth":3},"encoding":{"y":{"field":"r","type":"nominal","axis":null,"sort":null,"bandPosition":0.97},"opacity":{"condition":{"test":"datum.k=='h'","value":1},"value":0}}}]},
{"width":58,"height":{"step":24.5},"data":{"name":"C"},"encoding":{"y":{"field":"r","type":"nominal","axis":null,"sort":null,"scale":{"type":"band","paddingInner":0,"paddingOuter":0.7367,"align":0.5014}}},"layer":[
{"mark":{"type":"text","style":"C"},"encoding":{"x":{"value":"width"},"text":{"condition":{"test":"datum.k=='s'","field":"s2"},"value":""}}},
{"mark":{"type":"text","style":"Cb"},"encoding":{"x":{"value":"width"},"text":{"condition":{"test":"datum.k=='h'","field":"s2"},"value":""}}},
{"mark":{"type":"text","style":"Cb","align":"center","dx":-2},"encoding":{"text":{"condition":{"test":"datum.k=='h1'","field":"s2"},"value":""}}},
{"mark":{"type":"rule","color":"#111","strokeWidth":3},"encoding":{"y":{"field":"r","type":"nominal","axis":null,"sort":null,"bandPosition":0.97},"opacity":{"condition":{"test":"datum.k=='h'","value":1},"value":0}}}]},
{"width":58,"height":{"step":24.5},"data":{"name":"C"},"encoding":{"y":{"field":"r","type":"nominal","axis":null,"sort":null,"scale":{"type":"band","paddingInner":0,"paddingOuter":0.7367,"align":0.5014}}},"layer":[
{"mark":{"type":"text","style":"C"},"encoding":{"x":{"value":"width"},"text":{"condition":{"test":"datum.k=='s'","field":"n2"},"value":""}}},
{"mark":{"type":"text","style":"Cb"},"encoding":{"x":{"value":"width"},"text":{"condition":{"test":"datum.k=='h'||datum.k=='t'","field":"n2"},"value":""}}},
{"mark":{"type":"rule","color":"#111","strokeWidth":3},"encoding":{"y":{"field":"r","type":"nominal","axis":null,"sort":null,"bandPosition":0.97},"opacity":{"condition":{"test":"datum.k=='h'","value":1},"value":0}}}]},
{"width":76,"height":{"step":24.5},"data":{"name":"C"},"encoding":{"y":{"field":"r","type":"nominal","axis":null,"sort":null,"scale":{"type":"band","paddingInner":0,"paddingOuter":0.7367,"align":0.5014}}},"layer":[
{"mark":{"type":"text","style":"C"},"encoding":{"x":{"value":"width"},"text":{"condition":{"test":"datum.k=='s'","field":"w"},"value":""}}},
{"mark":{"type":"text","style":"Cb"},"encoding":{"x":{"value":"width"},"text":{"condition":{"test":"datum.k=='h'||datum.k=='t'","field":"w"},"value":""}}},
{"mark":{"type":"rule","color":"#111","strokeWidth":3},"encoding":{"y":{"field":"r","type":"nominal","axis":null,"sort":null,"bandPosition":0.97},"opacity":{"condition":{"test":"datum.k=='h'","value":1},"value":0}}}]},
{"width":187,"height":{"step":24.5},"data":{"name":"C"},"encoding":{"y":{"field":"r","type":"nominal","axis":null,"sort":null,"scale":{"type":"band","paddingInner":0,"paddingOuter":0.7367,"align":0.5014}}},"layer":[
{"mark":{"type":"text","style":"C"},"encoding":{"x":{"value":"width"},"text":{"condition":{"test":"datum.k=='s'","field":"ci"},"value":""}}},
{"mark":{"type":"text","style":"Cb"},"encoding":{"x":{"value":"width"},"text":{"condition":{"test":"datum.k=='t'","field":"ci"},"value":""}}},
{"mark":{"type":"text","style":"Cb","dx":14},"encoding":{"x":{"value":"width"},"text":{"condition":{"test":"datum.k=='h'","field":"ci"},"value":""}}},
{"mark":{"type":"text","style":"Cb","align":"center","dx":0},"encoding":{"text":{"condition":{"test":"datum.k=='h1'","field":"ci"},"value":""}}},
{"mark":{"type":"rule","color":"#111","strokeWidth":3},"encoding":{"y":{"field":"r","type":"nominal","axis":null,"sort":null,"bandPosition":0.97},"opacity":{"condition":{"test":"datum.k=='h'","value":1},"value":0}}}]},
{"width":465,"height":{"step":24.5},"data":{"name":"C"},"layer":[
{"transform":[{"filter":"datum.k=='h'"}],"mark":{"type":"rule","color":"#111","strokeWidth":3},"encoding":{"y":{"field":"r","type":"nominal","axis":null,"bandPosition":0.97,"scale":{"type":"band","paddingInner":0,"paddingOuter":0.7367,"align":0.5014,"domain":["h1","Study or Subgroup","Ademoglu (2014)","Behboudi (2017)","Foda (2019)","Guvenc (2016)","Yang (2015)","g","Total (95% CI)","Het","Test"]}}}},
{"transform":[{"filter":"datum.k=='h'"}],"mark":{"type":"rule","color":"#333","strokeWidth":2.5},"encoding":{"x":{"datum":0,"type":"quantitative","scale":{"domain":[-5.324,5.44],"nice":false,"zero":false},"axis":{"values":[-4,-2,0,2,4],"domain":false,"grid":false,"tickSize":14,"tickWidth":3,"tickColor":"#000","offset":-64.2,"labelFont":"Liberation Sans","labelFontSize":16.5,"labelColor":"#222","labelPadding":3,"labelExpr":"''+datum.value","labelFlush":false,"labelOverlap":false,"title":null}},"y":{"datum":"Study or Subgroup","type":"nominal","axis":null,"bandPosition":0.97},"y2":{"datum":"Het","bandPosition":0.4}}},
{"transform":[{"filter":"datum.k=='h1'||datum.k=='h'"}],"mark":{"type":"text","style":"Cb","align":"center","dx":2},"encoding":{"x":{"datum":0},"y":{"field":"r","type":"nominal","axis":null},"text":{"field":"p"}}},
{"transform":[{"filter":"datum.k=='s'"}],"mark":{"type":"rule","color":"#111","strokeWidth":3},"encoding":{"x":{"field":"lo","type":"quantitative"},"x2":{"field":"hi"},"y":{"field":"r","type":"nominal","axis":null,"bandPosition":0.5}}},
{"transform":[{"filter":"datum.k=='s'"}],"mark":{"type":"point","shape":"square","filled":true,"opacity":1,"color":"#00c000","size":70},"encoding":{"x":{"field":"est","type":"quantitative"},"y":{"field":"r","type":"nominal","axis":null,"bandPosition":0.5}}},
{"transform":[{"filter":"datum.k=='t'"}],"mark":{"type":"point","shape":"M-1,0L0,-0.2315L1,0L0,0.2315Z","filled":true,"opacity":1,"color":"#000","size":8226},"encoding":{"x":{"field":"est","type":"quantitative"},"y":{"field":"r","type":"nominal","axis":null,"bandPosition":0.3}}},
{"transform":[{"filter":"datum.k=='h'"}],"mark":{"type":"rule","color":"#000","strokeWidth":3.5},"encoding":{"x":{"datum":-5.02},"x2":{"datum":5.05},"y":{"datum":"Het","type":"nominal","axis":null,"bandPosition":0.4}}},
{"transform":[{"filter":"datum.r=='Test'"}],"mark":{"type":"text","style":"C","fontSize":17.5,"align":"right","dx":-7,"color":"#555"},"encoding":{"x":{"datum":0},"y":{"field":"r","type":"nominal","axis":null,"bandPosition":1.0},"text":{"field":"fl"}}},
{"transform":[{"filter":"datum.r=='Test'"}],"mark":{"type":"text","style":"C","fontSize":17.5,"align":"left","dx":9,"color":"#555"},"encoding":{"x":{"datum":0},"y":{"field":"r","type":"nominal","axis":null,"bandPosition":1.0},"text":{"field":"fr"}}}]}
],"spacing":0,"bounds":"flush"},

{"hconcat":[
{"width":38,"height":{"step":26},"data":{"name":"D"},"mark":{"type":"text","style":"L","align":"left"},"encoding":{"x":{"value":0},"y":{"field":"r","type":"nominal","axis":null,"sort":null,"bandPosition":1.0,"scale":{"type":"band","paddingInner":0,"paddingOuter":0.6302,"align":0.6948}},"text":{"condition":{"test":"datum.k=='h1'","field":"lab"},"value":""}}},
{"width":202,"height":{"step":26},"data":{"name":"D"},"encoding":{"y":{"field":"r","type":"nominal","axis":null,"sort":null,"scale":{"type":"band","paddingInner":0,"paddingOuter":0.6302,"align":0.6948}}},"layer":[
{"mark":{"type":"text","style":"D","align":"left","dx":16},"encoding":{"x":{"value":0},"text":{"condition":{"test":"datum.k=='s'","field":"r"},"value":""}}},
{"mark":{"type":"text","style":"Db","align":"left","dx":16},"encoding":{"x":{"value":0},"text":{"condition":{"test":"datum.k=='h'||datum.k=='t'","field":"r"},"value":""}}},
{"mark":{"type":"text","style":"D","align":"left","dx":16},"encoding":{"x":{"value":0},"text":{"condition":{"test":"datum.k=='n'","field":"txt"},"value":""}}},
{"mark":{"type":"rule","color":"#111","strokeWidth":3},"encoding":{"y":{"field":"r","type":"nominal","axis":null,"sort":null,"bandPosition":0.73},"opacity":{"condition":{"test":"datum.k=='h'","value":1},"value":0}}}]},
{"width":47,"height":{"step":26},"data":{"name":"D"},"encoding":{"y":{"field":"r","type":"nominal","axis":null,"sort":null,"scale":{"type":"band","paddingInner":0,"paddingOuter":0.6302,"align":0.6948}}},"layer":[
{"mark":{"type":"text","style":"D"},"encoding":{"x":{"value":"width"},"text":{"condition":{"test":"datum.k=='s'","field":"m1"},"value":""}}},
{"mark":{"type":"text","style":"Db"},"encoding":{"x":{"value":"width"},"text":{"condition":{"test":"datum.k=='h'","field":"m1"},"value":""}}},
{"mark":{"type":"rule","color":"#111","strokeWidth":3},"encoding":{"y":{"field":"r","type":"nominal","axis":null,"sort":null,"bandPosition":0.73},"opacity":{"condition":{"test":"datum.k=='h'","value":1},"value":0}}}]},
{"width":66,"height":{"step":26},"data":{"name":"D"},"encoding":{"y":{"field":"r","type":"nominal","axis":null,"sort":null,"scale":{"type":"band","paddingInner":0,"paddingOuter":0.6302,"align":0.6948}}},"layer":[
{"mark":{"type":"text","style":"D"},"encoding":{"x":{"value":"width"},"text":{"condition":{"test":"datum.k=='s'","field":"s1"},"value":""}}},
{"mark":{"type":"text","style":"Db"},"encoding":{"x":{"value":"width"},"text":{"condition":{"test":"datum.k=='h'","field":"s1"},"value":""}}},
{"mark":{"type":"text","style":"Db","align":"center","dx":2},"encoding":{"text":{"condition":{"test":"datum.k=='h1'","field":"s1"},"value":""}}},
{"mark":{"type":"rule","color":"#111","strokeWidth":3},"encoding":{"y":{"field":"r","type":"nominal","axis":null,"sort":null,"bandPosition":0.73},"opacity":{"condition":{"test":"datum.k=='h'","value":1},"value":0}}}]},
{"width":53,"height":{"step":26},"data":{"name":"D"},"encoding":{"y":{"field":"r","type":"nominal","axis":null,"sort":null,"scale":{"type":"band","paddingInner":0,"paddingOuter":0.6302,"align":0.6948}}},"layer":[
{"mark":{"type":"text","style":"D"},"encoding":{"x":{"value":"width"},"text":{"condition":{"test":"datum.k=='s'","field":"n1"},"value":""}}},
{"mark":{"type":"text","style":"Db"},"encoding":{"x":{"value":"width"},"text":{"condition":{"test":"datum.k=='h'||datum.k=='t'","field":"n1"},"value":""}}},
{"mark":{"type":"rule","color":"#111","strokeWidth":3},"encoding":{"y":{"field":"r","type":"nominal","axis":null,"sort":null,"bandPosition":0.73},"opacity":{"condition":{"test":"datum.k=='h'","value":1},"value":0}}}]},
{"width":76,"height":{"step":26},"data":{"name":"D"},"encoding":{"y":{"field":"r","type":"nominal","axis":null,"sort":null,"scale":{"type":"band","paddingInner":0,"paddingOuter":0.6302,"align":0.6948}}},"layer":[
{"mark":{"type":"text","style":"D"},"encoding":{"x":{"value":"width"},"text":{"condition":{"test":"datum.k=='s'","field":"m2"},"value":""}}},
{"mark":{"type":"text","style":"Db"},"encoding":{"x":{"value":"width"},"text":{"condition":{"test":"datum.k=='h'","field":"m2"},"value":""}}},
{"mark":{"type":"rule","color":"#111","strokeWidth":3},"encoding":{"y":{"field":"r","type":"nominal","axis":null,"sort":null,"bandPosition":0.73},"opacity":{"condition":{"test":"datum.k=='h'","value":1},"value":0}}}]},
{"width":66,"height":{"step":26},"data":{"name":"D"},"encoding":{"y":{"field":"r","type":"nominal","axis":null,"sort":null,"scale":{"type":"band","paddingInner":0,"paddingOuter":0.6302,"align":0.6948}}},"layer":[
{"mark":{"type":"text","style":"D"},"encoding":{"x":{"value":"width"},"text":{"condition":{"test":"datum.k=='s'","field":"s2"},"value":""}}},
{"mark":{"type":"text","style":"Db"},"encoding":{"x":{"value":"width"},"text":{"condition":{"test":"datum.k=='h'","field":"s2"},"value":""}}},
{"mark":{"type":"text","style":"Db","align":"center","dx":-20},"encoding":{"text":{"condition":{"test":"datum.k=='h1'","field":"s2"},"value":""}}},
{"mark":{"type":"rule","color":"#111","strokeWidth":3},"encoding":{"y":{"field":"r","type":"nominal","axis":null,"sort":null,"bandPosition":0.73},"opacity":{"condition":{"test":"datum.k=='h'","value":1},"value":0}}}]},
{"width":54,"height":{"step":26},"data":{"name":"D"},"encoding":{"y":{"field":"r","type":"nominal","axis":null,"sort":null,"scale":{"type":"band","paddingInner":0,"paddingOuter":0.6302,"align":0.6948}}},"layer":[
{"mark":{"type":"text","style":"D"},"encoding":{"x":{"value":"width"},"text":{"condition":{"test":"datum.k=='s'","field":"n2"},"value":""}}},
{"mark":{"type":"text","style":"Db"},"encoding":{"x":{"value":"width"},"text":{"condition":{"test":"datum.k=='h'||datum.k=='t'","field":"n2"},"value":""}}},
{"mark":{"type":"rule","color":"#111","strokeWidth":3},"encoding":{"y":{"field":"r","type":"nominal","axis":null,"sort":null,"bandPosition":0.73},"opacity":{"condition":{"test":"datum.k=='h'","value":1},"value":0}}}]},
{"width":71,"height":{"step":26},"data":{"name":"D"},"encoding":{"y":{"field":"r","type":"nominal","axis":null,"sort":null,"scale":{"type":"band","paddingInner":0,"paddingOuter":0.6302,"align":0.6948}}},"layer":[
{"mark":{"type":"text","style":"D"},"encoding":{"x":{"value":"width"},"text":{"condition":{"test":"datum.k=='s'","field":"w"},"value":""}}},
{"mark":{"type":"text","style":"Db"},"encoding":{"x":{"value":"width"},"text":{"condition":{"test":"datum.k=='h'||datum.k=='t'","field":"w"},"value":""}}},
{"mark":{"type":"rule","color":"#111","strokeWidth":3},"encoding":{"y":{"field":"r","type":"nominal","axis":null,"sort":null,"bandPosition":0.73},"opacity":{"condition":{"test":"datum.k=='h'","value":1},"value":0}}}]},
{"width":183,"height":{"step":26},"data":{"name":"D"},"encoding":{"y":{"field":"r","type":"nominal","axis":null,"sort":null,"scale":{"type":"band","paddingInner":0,"paddingOuter":0.6302,"align":0.6948}}},"layer":[
{"mark":{"type":"text","style":"D"},"encoding":{"x":{"value":"width"},"text":{"condition":{"test":"datum.k=='s'","field":"ci"},"value":""}}},
{"mark":{"type":"text","style":"Db"},"encoding":{"x":{"value":"width"},"text":{"condition":{"test":"datum.k=='t'","field":"ci"},"value":""}}},
{"mark":{"type":"text","style":"Db","dx":8},"encoding":{"x":{"value":"width"},"text":{"condition":{"test":"datum.k=='h'","field":"ci"},"value":""}}},
{"mark":{"type":"text","style":"Db","align":"center","dx":1.5},"encoding":{"text":{"condition":{"test":"datum.k=='h1'","field":"ci"},"value":""}}},
{"mark":{"type":"rule","color":"#111","strokeWidth":3},"encoding":{"y":{"field":"r","type":"nominal","axis":null,"sort":null,"bandPosition":0.73},"opacity":{"condition":{"test":"datum.k=='h'","value":1},"value":0}}}]},
{"width":461,"height":{"step":26},"data":{"name":"D"},"layer":[
{"transform":[{"filter":"datum.k=='h'"}],"mark":{"type":"rule","color":"#111","strokeWidth":3},"encoding":{"y":{"field":"r","type":"nominal","axis":null,"bandPosition":0.73,"scale":{"type":"band","paddingInner":0,"paddingOuter":0.6302,"align":0.6948,"domain":["h1","Study or Subgroup","Ali (2016)","Bousmpoula (2019)","Foda (2018)","Foda (2019)","g","Total (95% CI)","Het","Test"]}}}},
{"transform":[{"filter":"datum.k=='h'"}],"mark":{"type":"rule","color":"#333","strokeWidth":2.5},"encoding":{"x":{"datum":0,"type":"quantitative","scale":{"domain":[-5.361,5.385],"nice":false,"zero":false},"axis":{"values":[-4,-2,0,2,4],"domain":false,"grid":false,"tickSize":15,"tickWidth":3,"tickColor":"#000","offset":-64.56,"labelFont":"Liberation Sans","labelFontSize":17,"labelColor":"#222","labelPadding":3,"labelExpr":"''+datum.value","labelFlush":false,"labelOverlap":false,"title":null}},"y":{"datum":"Study or Subgroup","type":"nominal","axis":null,"bandPosition":0.73},"y2":{"datum":"Het","bandPosition":0.19}}},
{"transform":[{"filter":"datum.k=='h1'||datum.k=='h'"}],"mark":{"type":"text","style":"Db","align":"center","dx":0},"encoding":{"x":{"datum":0},"y":{"field":"r","type":"nominal","axis":null},"text":{"field":"p"}}},
{"transform":[{"filter":"datum.k=='s'"}],"mark":{"type":"rule","color":"#111","strokeWidth":3},"encoding":{"x":{"field":"lo","type":"quantitative"},"x2":{"field":"hi"},"y":{"field":"r","type":"nominal","axis":null,"bandPosition":0.27}}},
{"transform":[{"filter":"datum.k=='s'"}],"mark":{"type":"point","shape":"square","filled":true,"opacity":1,"color":"#00c000","size":81},"encoding":{"x":{"field":"est","type":"quantitative"},"y":{"field":"r","type":"nominal","axis":null,"bandPosition":0.27}}},
{"transform":[{"filter":"datum.k=='t'"}],"mark":{"type":"point","shape":"M-1,0L0,-0.15L1,0L0,0.15Z","filled":true,"opacity":1,"color":"#000","size":21025},"encoding":{"x":{"field":"est","type":"quantitative"},"y":{"field":"r","type":"nominal","axis":null,"bandPosition":0.19}}},
{"transform":[{"filter":"datum.k=='h'"}],"mark":{"type":"rule","color":"#000","strokeWidth":3.5},"encoding":{"x":{"datum":-5.035},"x2":{"datum":5.035},"y":{"datum":"Het","type":"nominal","axis":null,"bandPosition":0.19}}},
{"transform":[{"filter":"datum.r=='Test'"}],"mark":{"type":"text","style":"D","align":"right","dx":-8,"color":"#555"},"encoding":{"x":{"datum":0},"y":{"field":"r","type":"nominal","axis":null,"bandPosition":0.85},"text":{"field":"fl"}}},
{"transform":[{"filter":"datum.r=='Test'"}],"mark":{"type":"text","style":"D","align":"left","dx":7,"color":"#555"},"encoding":{"x":{"datum":0},"y":{"field":"r","type":"nominal","axis":null,"bandPosition":0.85},"text":{"field":"fr"}}}]}
],"spacing":0,"bounds":"flush"}
],
"spacing":50,"bounds":"full",
"config":{
"view":{"stroke":null},
"text":{"baseline":"middle","align":"right","color":"#1a1a1a"},
"style":{
"L":{"font":"Liberation Sans","fontSize":24,"fontWeight":"bold"},
"A":{"font":"Liberation Sans","fontSize":16.5},
"Ab":{"font":"Liberation Sans","fontSize":16,"fontWeight":"bold"},
"B":{"font":"Liberation Sans","fontSize":17.5},
"Bb":{"font":"Liberation Sans","fontSize":17.5,"fontWeight":"bold"},
"C":{"font":"Liberation Sans","fontSize":18},
"Cb":{"font":"Liberation Sans","fontSize":18,"fontWeight":"bold"},
"D":{"font":"Liberation Sans","fontSize":17.5},
"Db":{"font":"Liberation Sans","fontSize":17.5,"fontWeight":"bold"}
}
}
}
